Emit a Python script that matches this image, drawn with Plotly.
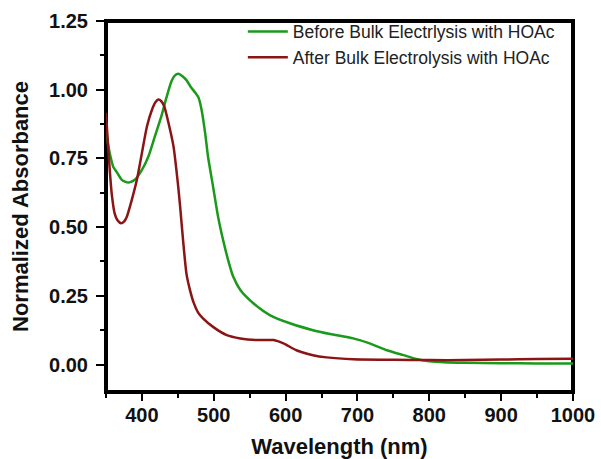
import plotly.graph_objects as go

# Wavelength (nm) and normalized absorbance
before_nm = [350, 353, 356, 360, 365, 372, 381, 390, 400, 409, 418, 427, 434, 441, 446, 451,
             456, 462, 468, 474, 479, 483, 488, 492, 499, 506, 513, 520, 527, 537, 555, 578,
             606, 638, 662, 694, 717, 741, 764, 782, 800, 820, 850, 900, 950, 1000]
before_abs = [0.86, 0.80, 0.76, 0.72, 0.70, 0.672, 0.662, 0.672, 0.708, 0.757, 0.83, 0.903, 0.97,
              1.03, 1.052, 1.058, 1.05, 1.035, 1.01, 0.99, 0.97, 0.927, 0.842, 0.757, 0.648,
              0.538, 0.453, 0.38, 0.32, 0.271, 0.223, 0.18, 0.15, 0.125, 0.111, 0.095, 0.077,
              0.052, 0.034, 0.02, 0.012, 0.008, 0.006, 0.005, 0.004, 0.004]

after_nm = [350, 353, 356, 358, 362, 366, 371, 375, 379, 386, 393, 400, 407, 414, 419, 423,
            427, 431, 437, 444, 450, 453, 457, 462, 467, 472, 478, 485, 499, 518, 537, 560,
            583, 597, 615, 638, 657, 694, 750, 800, 850, 900, 950, 1000]
after_abs = [0.915, 0.79, 0.68, 0.62, 0.55, 0.525, 0.514, 0.52, 0.538, 0.60, 0.672, 0.77, 0.866,
             0.927, 0.955, 0.964, 0.958, 0.94, 0.879, 0.793, 0.66, 0.58, 0.46, 0.33, 0.27, 0.225,
             0.19, 0.168, 0.137, 0.107, 0.095, 0.089, 0.089, 0.077, 0.052, 0.034, 0.026, 0.019,
             0.017, 0.016, 0.016, 0.018, 0.020, 0.021]

x_ticks = [400, 500, 600, 700, 800, 900, 1000]
y_ticks = [0.00, 0.25, 0.50, 0.75, 1.00, 1.25]
x_range = [350, 1000]
y_range = [-0.1, 1.25]

FONT = "Arial, Liberation Sans, sans-serif"

fig = go.Figure()
# plot frame, traced along the axis range limits
fig.add_trace(go.Scatter(x=[x_range[0], x_range[1], x_range[1], x_range[0], x_range[0]],
                         y=[y_range[0], y_range[0], y_range[1], y_range[1], y_range[0]],
                         mode="lines", line=dict(color="black", width=4),
                         showlegend=False, hoverinfo="skip"))
fig.add_trace(go.Scatter(x=before_nm, y=before_abs, mode="lines",
                         name="Before Bulk Electrlysis with HOAc",
                         line=dict(color="#1a9a1a", width=2.5, shape="spline", smoothing=0.6)))
fig.add_trace(go.Scatter(x=after_nm, y=after_abs, mode="lines",
                         name="After Bulk Electrolysis with HOAc",
                         line=dict(color="#8b1414", width=2.5, shape="spline", smoothing=0.6)))

fig.update_layout(
    width=601, height=459,
    margin=dict(l=106, r=28, t=21, b=67),
    paper_bgcolor="white", plot_bgcolor="white",
    showlegend=True,
    legend=dict(x=0.293, y=1.02, xanchor="left", yanchor="top",
                bgcolor="rgba(0,0,0,0)", borderwidth=0,
                font=dict(family=FONT, size=17.5, color="#222"),
                itemwidth=40, tracegroupgap=0),
    xaxis=dict(range=x_range, tickvals=x_ticks, ticktext=[str(v) for v in x_ticks],
               automargin=False,
               showgrid=False, zeroline=False, showline=True, linecolor="black", linewidth=2,
               mirror=True, ticks="outside", ticklen=7, tickwidth=2, tickcolor="black",
               ticklabelstandoff=-3,
               tickfont=dict(family=FONT, size=20, color="#111", weight="bold"),
               minor=dict(dtick=50, tick0=350, ticks="outside", ticklen=4, tickwidth=1.5, tickcolor="black"),
               title=dict(text="<b>Wavelength (nm)</b>", font=dict(family=FONT, size=22, color="#111"),
                          standoff=21)),
    yaxis=dict(range=y_range, tickvals=y_ticks, ticktext=["%.2f" % v for v in y_ticks],
               automargin=False,
               showgrid=False, zeroline=False, showline=True, linecolor="black", linewidth=2,
               mirror=True, ticks="outside", ticklen=8, tickwidth=2, tickcolor="black",
               ticklabelstandoff=4,
               tickfont=dict(family=FONT, size=20, color="#111", weight="bold"),
               minor=dict(dtick=0.125, tick0=0, ticks="outside", ticklen=4, tickwidth=1.5, tickcolor="black"),
               title=dict(text="<b>Normalized Absorbance</b>", font=dict(family=FONT, size=22, color="#111"),
                          standoff=14)),
)

fig.write_html("out.html")
